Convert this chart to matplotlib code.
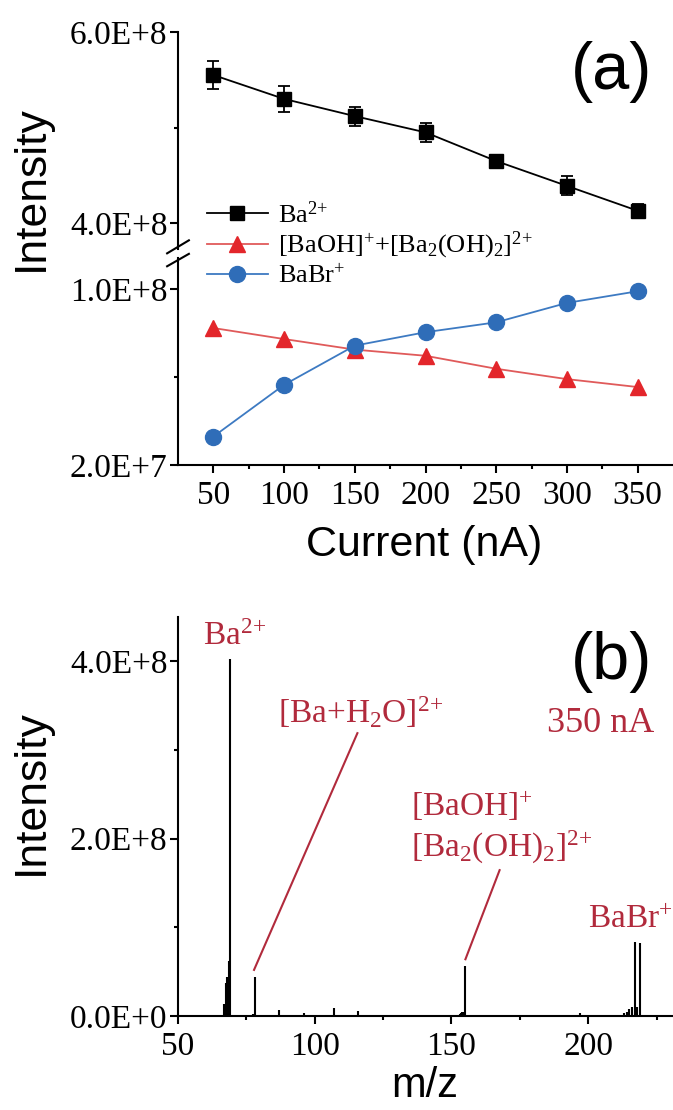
import matplotlib
matplotlib.use("Agg")
import matplotlib.pyplot as plt
from matplotlib.lines import Line2D

plt.rcParams['font.family'] = ['Liberation Serif', 'DejaVu Serif']
plt.rcParams['mathtext.fontset'] = 'custom'
plt.rcParams['mathtext.rm'] = 'Liberation Serif'
plt.rcParams['mathtext.it'] = 'Liberation Serif:italic'
plt.rcParams['mathtext.bf'] = 'Liberation Serif:bold'

# ---------------- data: panel (a) ----------------
current = [50, 100, 150, 200, 250, 300, 350]
ba2 = [5.55e8, 5.30e8, 5.12e8, 4.95e8, 4.65e8, 4.39e8, 4.13e8]
ba2_err = [0.15e8, 0.14e8, 0.10e8, 0.10e8, 0.05e8, 0.10e8, 0.07e8]
baoh = [8.22e7, 7.72e7, 7.24e7, 6.96e7, 6.37e7, 5.90e7, 5.54e7]
babr = [3.29e7, 5.64e7, 7.42e7, 8.03e7, 8.48e7, 9.36e7, 9.89e7]

lab_ba2 = r'Ba$^{2{+}}$'
lab_baoh = r'[BaOH]$^{{+}}$+[Ba$_{2}$(OH)$_{2}$]$^{2{+}}$'
lab_babr = r'BaBr$^{{+}}$'

a_xticks = [50, 100, 150, 200, 250, 300, 350]
a_xminor = [75, 125, 175, 225, 275, 325]
a_up_yticks = [4.0e8, 6.0e8]
a_up_yticklabels = ['4.0E+8', '6.0E+8']
a_lo_yticks = [2.0e7, 1.0e8]
a_lo_yticklabels = ['2.0E+7', '1.0E+8']

# ---------------- data: panel (b) ----------------
mz = [65.0, 66.0, 67.0, 67.5, 68.0, 68.5, 69.0,
      77.0, 77.5, 78.0, 87.0, 96.0, 107.0, 116.0,
      152.0, 153.0, 153.5, 154.0, 154.5, 155.0, 197.0,
      213.0, 214.0, 215.0, 216.0, 217.0, 218.0, 219.0]
spec = [0.01e8, 0.01e8, 0.14e8, 0.37e8, 0.44e8, 0.62e8, 4.03e8,
        0.01e8, 0.02e8, 0.44e8, 0.07e8, 0.03e8, 0.085e8, 0.06e8,
        0.01e8, 0.02e8, 0.03e8, 0.04e8, 0.05e8, 0.56e8, 0.03e8,
        0.03e8, 0.05e8, 0.08e8, 0.10e8, 0.83e8, 0.10e8, 0.82e8]
b_xticks = [50, 100, 150, 200]
b_xminor = [75, 125, 175, 225]
b_yticks = [0.0, 2.0e8, 4.0e8]
b_yticklabels = ['0.0E+0', '2.0E+8', '4.0E+8']
b_yminor = [1.0e8, 3.0e8]

RED = '#E3262B'
REDL = '#E05A5A'
BLUE = '#2F6DB8'
BLUEL = '#3D7AC2'
ANN = '#B12A3C'

W, H = 673, 1110
fig = plt.figure(figsize=(W / 100, H / 100), dpi=100)

def fx(px):
    return px / W

def fy(py):
    return 1 - py / H

left = fx(178)
right = 1.0

ax_up = fig.add_axes([left, fy(249), right - left, fy(32) - fy(249)])
ax_lo = fig.add_axes([left, fy(465), right - left, fy(258) - fy(465)])
ax_b = fig.add_axes([left, fy(1016), right - left, fy(617) - fy(1016)])

lw_sp = 1.5
tick_fs = 24
for ax in (ax_up, ax_lo, ax_b):
    ax.set_facecolor('none')
    for s in ('top', 'right'):
        ax.spines[s].set_visible(False)
    for s in ('left', 'bottom'):
        ax.spines[s].set_linewidth(lw_sp)
    ax.tick_params(which='major', direction='out', length=5.5, width=1.5,
                   labelsize=tick_fs)
    ax.tick_params(which='minor', direction='out', length=3, width=1.5)
    ax.tick_params(axis='y', which='major', pad=2)
    ax.tick_params(axis='x', which='major', pad=6)

# upper part of (a)
ax_up.errorbar(current, ba2, yerr=ba2_err, color='black', marker='s',
               markersize=10, lw=1.3, capsize=4, elinewidth=1.3, capthick=1.3)
ax_up.set_xlim(25, 375)
ax_up.set_ylim(3.73e8, 6.0e8)
ax_up.spines['bottom'].set_visible(False)
ax_up.set_xticks([])
ax_up.set_yticks(a_up_yticks)
ax_up.set_yticklabels(a_up_yticklabels)
ax_up.set_yticks([5.0e8], minor=True)

# lower part of (a)
ax_lo.plot(current, baoh, color=REDL, lw=1.3, marker='^', markersize=11,
           markerfacecolor=RED, markeredgecolor=RED, zorder=3)
ax_lo.plot(current, babr, color=BLUEL, lw=1.3, marker='o', markersize=11.5,
           markerfacecolor=BLUE, markeredgecolor=BLUE, zorder=4)
ax_lo.set_xlim(25, 375)
ax_lo.set_ylim(2.0e7, 1.14e8)
ax_lo.set_xticks(a_xticks)
ax_lo.set_xticks(a_xminor, minor=True)
ax_lo.set_yticks(a_lo_yticks)
ax_lo.set_yticklabels(a_lo_yticklabels)
ax_lo.set_yticks([6.0e7], minor=True)

# break marks
for ax, y0 in ((ax_up, 0.01), (ax_lo, 0.99)):
    ax.plot([-0.022, 0.022], [y0 - 0.03, y0 + 0.03], transform=ax.transAxes,
            color='black', lw=1.5, clip_on=False)

handles = [Line2D([], [], color='black', marker='s', markersize=10, lw=1.3),
           Line2D([], [], color=REDL, marker='^', markersize=11, lw=1.3,
                  markerfacecolor=RED, markeredgecolor=RED),
           Line2D([], [], color=BLUEL, marker='o', markersize=11.5, lw=1.3,
                  markerfacecolor=BLUE, markeredgecolor=BLUE)]
fig.legend(handles, [lab_ba2, lab_baoh, lab_babr], loc='upper left',
           bbox_to_anchor=(fx(207), fy(201)), frameon=False, fontsize=19,
           handlelength=2.3, handletextpad=0.4, labelspacing=0.1,
           borderpad=0, borderaxespad=0)

fig.text(fx(31), fy(188), 'Intensity', rotation=90, ha='center', va='center',
         fontsize=32, family='Liberation Sans')
fig.text(fx(424), fy(545), 'Current (nA)', ha='center', va='center',
         fontsize=31, family='Liberation Sans')
fig.text(fx(612), fy(72), '(a)', ha='center', va='center',
         fontsize=48, family='Liberation Sans')

# (b) spectrum
ax_b.vlines(mz, 0, spec, color='black', lw=1.5)
ax_b.set_xlim(50, 231)
ax_b.set_ylim(0, 4.5e8)
ax_b.set_xticks(b_xticks)
ax_b.set_xticks(b_xminor, minor=True)
ax_b.set_yticks(b_yticks)
ax_b.set_yticklabels(b_yticklabels)
ax_b.set_yticks(b_yminor, minor=True)

ann_fs = 24
ax_b.text(59.2, 4.18e8, r'Ba$^{2{+}}$', color=ANN, fontsize=ann_fs,
          va='baseline')
ax_b.text(86.6, 3.30e8, r'[Ba+H$_{2}$O]$^{2{+}}$', color=ANN,
          fontsize=ann_fs, va='baseline')
ax_b.text(224.0, 3.20e8, '350 nA', color=ANN, fontsize=26, va='baseline',
          ha='right')
ax_b.text(135.3, 2.26e8, r'[BaOH]$^{{+}}$', color=ANN, fontsize=ann_fs,
          va='baseline')
ax_b.text(135.3, 1.80e8, r'[Ba$_{2}$(OH)$_{2}$]$^{2{+}}$', color=ANN,
          fontsize=ann_fs, va='baseline')
ax_b.text(199.8, 0.99e8, r'BaBr$^{{+}}$', color=ANN, fontsize=ann_fs,
          va='baseline')
ax_b.plot([115.6, 77.8], [3.19e8, 0.52e8], color=ANN, lw=1.5)
ax_b.plot([167.6, 155.1], [1.645e8, 0.64e8], color=ANN, lw=1.5)

fig.text(fx(31), fy(792), 'Intensity', rotation=90, ha='center', va='center',
         fontsize=32, family='Liberation Sans')
fig.text(fx(425), fy(1086), 'm/z', ha='center', va='center',
         fontsize=30, family='Liberation Sans')
fig.text(fx(612), fy(662), '(b)', ha='center', va='center',
         fontsize=48, family='Liberation Sans')

fig.savefig('out.png', dpi=100)
